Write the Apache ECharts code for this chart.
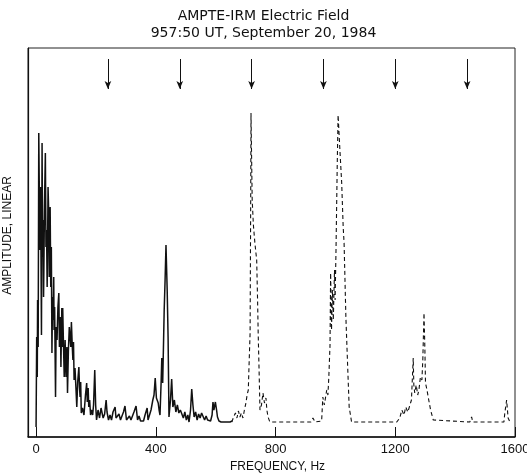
<!DOCTYPE html>
<html>
<head>
<meta charset="utf-8">
<script src="https://cdn.jsdelivr.net/npm/echarts@6/dist/echarts.min.js"></script>
<style>
  html, body { margin: 0; padding: 0; background: #fff; }
  #chart { width: 527px; height: 476px; }
</style>
</head>
<body>
<div id="chart"></div>
<script>
// frequency (Hz), amplitude (arbitrary linear units, 0..389)
const solidSpectrum = [
  [0, 10], [2, 100], [4, 60], [5, 137], [7, 90], [9, 304], [11, 240], [13, 187], [15, 250],
  [18, 102], [20, 294], [22, 180], [23, 217], [25, 140], [26, 167], [28, 230], [31, 284],
  [33, 190], [35, 207], [37, 150], [38, 177], [40, 250], [42, 227], [44, 160], [45, 197],
  [47, 230], [49, 150], [51, 190], [53, 84], [55, 140], [57, 117], [59, 160], [60, 107],
  [62, 130], [65, 40], [67, 110], [70, 97], [73, 130], [76, 144], [78, 90], [79, 107],
  [81, 120], [83, 70], [85, 110], [86, 129], [88, 90], [89, 129], [91, 100], [94, 60],
  [96, 80], [97, 97], [100, 60], [103, 90], [105, 44], [108, 87], [111, 110], [114, 112],
  [116, 90], [118, 115], [121, 90], [123, 77], [125, 95], [127, 57], [130, 69], [133, 50],
  [136, 30], [139, 55], [143, 70], [145, 50], [147, 40], [149, 55], [151, 24], [155, 29],
  [160, 22], [165, 42], [169, 54], [171, 35], [174, 49], [176, 30], [179, 37], [182, 22],
  [185, 27], [189, 22], [192, 32], [196, 67], [199, 32], [202, 17], [207, 27], [212, 19],
  [217, 29], [224, 19], [229, 23], [234, 37], [237, 25], [242, 17], [247, 22], [252, 17],
  [257, 25], [264, 30], [267, 19], [272, 17], [277, 23], [282, 17], [287, 19], [292, 25],
  [297, 31], [302, 17], [307, 16], [312, 21], [317, 17], [322, 16], [327, 25], [334, 31],
  [339, 17], [344, 21], [349, 16], [354, 18], [359, 16], [364, 22], [371, 29], [374, 17],
  [379, 16], [384, 27], [390, 37], [394, 42], [398, 59], [402, 39], [408, 34], [411, 27],
  [414, 22], [418, 57], [420, 79], [423, 54], [426, 97], [428, 127], [431, 157], [434, 192],
  [438, 147], [441, 100], [444, 20], [449, 37], [453, 58], [457, 30], [462, 37], [467, 25],
  [472, 32], [477, 24], [482, 27], [487, 29], [492, 19], [497, 25], [502, 17], [507, 22],
  [511, 15], [516, 27], [520, 48], [524, 32], [528, 20], [533, 25], [538, 17], [543, 23],
  [548, 19], [553, 24], [558, 22], [563, 17], [568, 21], [573, 17], [578, 19], [583, 16],
  [588, 22], [591, 35], [594, 27], [599, 35], [603, 27], [606, 20], [611, 16], [618, 15],
  [648, 15], [655, 16]
];

const dashedSpectrum = [
  [654, 15], [661, 21], [666, 24], [671, 19], [676, 26], [681, 20], [686, 24], [691, 19],
  [696, 27], [701, 34], [705, 42], [709, 47], [711, 67], [715, 104], [717, 237], [718, 324],
  [722, 237], [726, 212], [731, 194], [737, 177], [740, 137], [742, 104], [745, 67], [748, 27],
  [753, 32], [758, 44], [763, 34], [768, 39], [771, 27], [775, 20], [781, 15], [918, 15],
  [925, 19], [932, 15], [954, 16], [958, 40], [963, 32], [971, 47], [975, 42], [978, 60],
  [982, 92], [984, 164], [987, 107], [990, 147], [993, 117], [997, 167], [999, 137], [1002, 187],
  [1006, 270], [1009, 322], [1015, 287], [1021, 254], [1026, 210], [1029, 194], [1035, 120],
  [1041, 70], [1046, 30], [1054, 15], [1205, 15], [1209, 17], [1215, 19], [1222, 27],
  [1229, 22], [1235, 30], [1242, 25], [1249, 32], [1254, 37], [1260, 79], [1262, 52],
  [1265, 44], [1270, 52], [1275, 42], [1279, 47], [1284, 60], [1289, 57], [1292, 77],
  [1296, 124], [1299, 87], [1301, 54], [1306, 47], [1310, 40], [1318, 27], [1327, 17],
  [1332, 15], [1449, 15], [1455, 20], [1459, 15], [1563, 15], [1566, 24], [1572, 37],
  [1577, 19], [1583, 15], [1589, 15]
];

// harmonic markers (Hz)
const arrowFreqs = [240, 480, 720, 960, 1200, 1440];
const arrowTop = 378;
const arrowTip = 348;

const freqTicks = [0, 400, 800, 1200, 1600];

const labelFont = "'Liberation Sans', Arial, sans-serif";

const chart = echarts.init(document.getElementById("chart"));

const option = {
  animation: false,
  title: {
    text: "AMPTE-IRM Electric Field\n957:50 UT, September 20, 1984",
    left: "center",
    top: 3,
    textStyle: {
      fontFamily: "DejaVu Sans",
      fontSize: 14,
      fontWeight: "normal",
      color: "#111",
      lineHeight: 17,
    },
  },
  grid: {
    left: 28,
    right: 12,
    top: 48,
    bottom: 39,
    outerBoundsMode: "none",
    show: true,
    borderColor: "#222",
    borderWidth: 1,
  },
  xAxis: {
    type: "value",
    min: -27,
    max: 1600,
    name: "FREQUENCY, Hz",
    nameLocation: "middle",
    nameGap: 24,
    nameTextStyle: { fontFamily: labelFont, fontSize: 12, color: "#111", padding: [0, 0, 0, 12] },
    axisLine: { show: true, lineStyle: { color: "#111", width: 1.5 } },
    axisTick: {
      show: true,
      inside: true,
      length: 10,
      customValues: freqTicks,
      lineStyle: { color: "#111" },
    },
    axisLabel: {
      customValues: freqTicks,
      margin: 6,
      fontFamily: labelFont,
      fontSize: 13,
      color: "#111",
      formatter: (v) => String(v),
    },
    splitLine: { show: false },
  },
  yAxis: {
    type: "value",
    min: 0,
    max: 389,
    name: "AMPLITUDE, LINEAR",
    nameLocation: "middle",
    nameGap: 14,
    nameRotate: 90,
    nameTextStyle: { fontFamily: labelFont, fontSize: 12, color: "#111", padding: [0, 0, 0, 14] },
    axisLine: { show: true, onZero: false, lineStyle: { color: "#111", width: 1.2 } },
    axisTick: { show: false },
    axisLabel: { show: false },
    splitLine: { show: false },
  },
  series: [
    {
      type: "line",
      data: solidSpectrum,
      symbol: "none",
      lineStyle: { color: "#111", width: 1.5 },
      markLine: {
        silent: true,
        symbol: ["none", "arrow"],
        symbolSize: [5, 8],
        label: { show: false },
        lineStyle: { color: "#111", width: 1, type: "solid" },
        data: arrowFreqs.map((f) => [
          { coord: [f, arrowTop] },
          { coord: [f, arrowTip] },
        ]),
      },
    },
    {
      type: "line",
      data: dashedSpectrum,
      symbol: "none",
      lineStyle: { color: "#111", width: 1.1, type: [4, 3] },
    },
  ],
};

chart.setOption(option);
</script>
</body>
</html>
